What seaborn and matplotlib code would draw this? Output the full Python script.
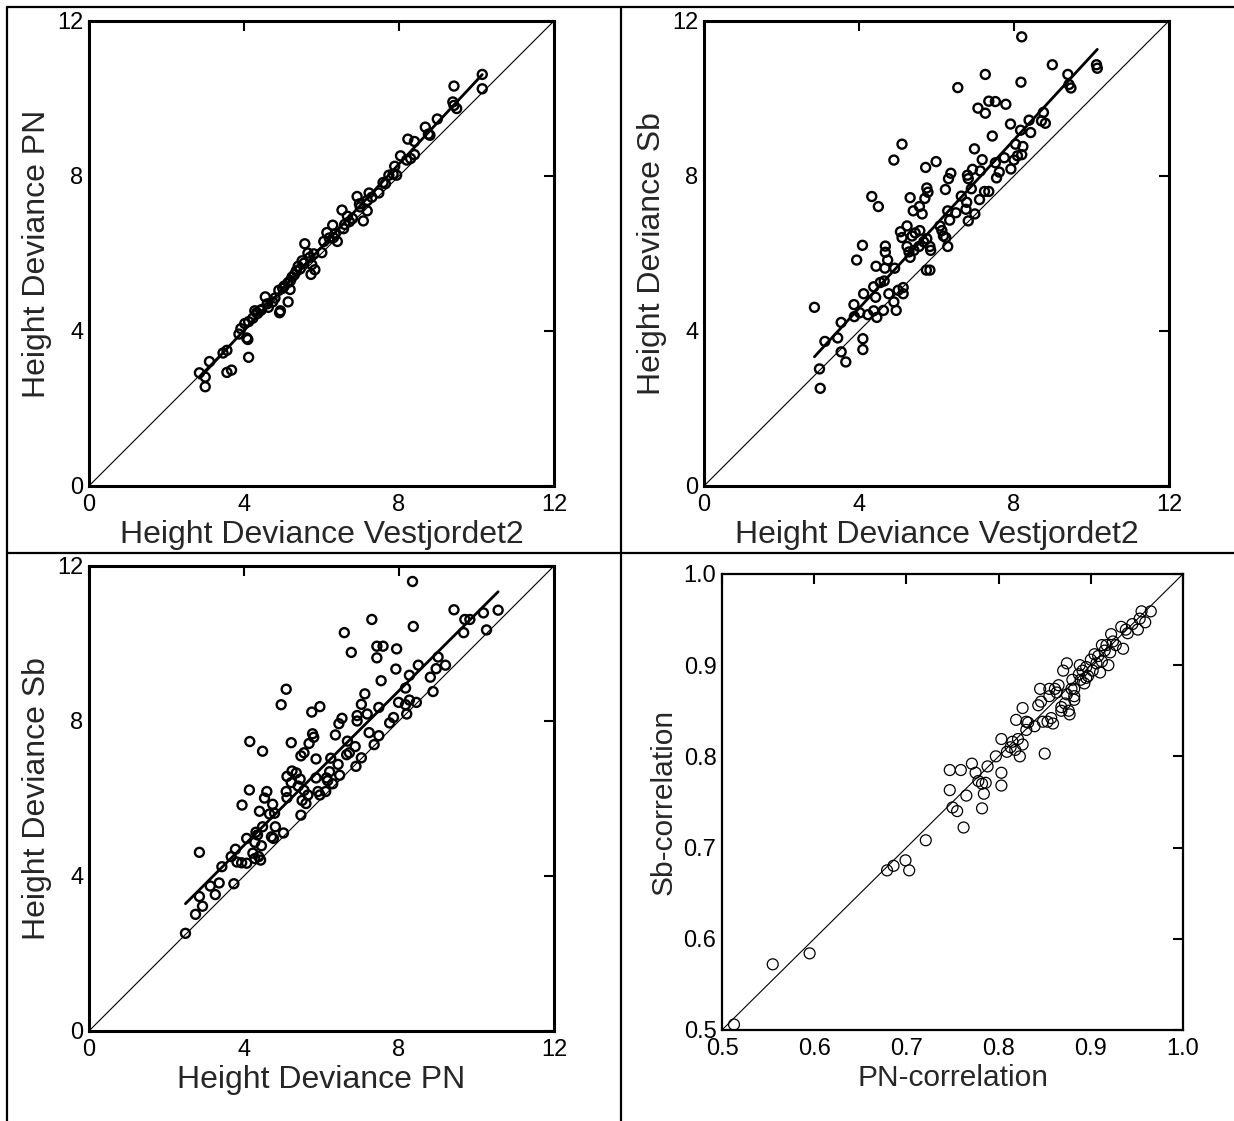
import numpy as np
import pandas as pd
import matplotlib
matplotlib.use("Agg")
import matplotlib.pyplot as plt
from matplotlib.lines import Line2D
import seaborn as sns

# Painel 1: Vestjordet2 x PN
p1_vest = [10.15, 10.15, 9.42, 9.39, 9.42, 9.49, 8.99, 8.68, 8.76, 8.80, 8.23, 8.40, 8.40, 8.04, 8.20,
           8.30, 7.89, 7.94, 7.74, 7.85, 7.59, 7.48, 7.65, 7.23, 7.18, 7.30, 6.92, 6.98, 7.18, 7.08,
           7.00, 6.53, 6.67, 6.72, 6.80, 6.57, 6.60, 6.29, 6.14, 6.31, 6.41, 6.20, 6.35, 6.06, 6.01,
           5.80, 5.57, 5.65, 5.50, 5.40, 5.75, 5.83, 5.73, 5.55, 5.70, 5.24, 5.14, 5.04, 5.19, 5.30,
           5.35, 5.45, 5.20, 4.90, 4.94, 4.92, 5.14, 5.00, 4.55, 4.74, 4.63, 4.43, 4.33, 4.80, 4.60,
           4.45, 4.28, 4.23, 4.35, 4.02, 4.12, 3.92, 3.87, 4.07, 4.10, 4.12, 3.56, 3.46, 3.56, 3.68,
           3.11, 2.85, 3.00, 3.00]
p1_pn = [10.62, 10.25, 10.32, 9.91, 9.82, 9.74, 9.47, 9.26, 9.08, 9.05, 8.95, 8.89, 8.55, 8.52, 8.41,
         8.45, 8.25, 8.02, 8.02, 8.05, 7.83, 7.56, 7.80, 7.56, 7.37, 7.45, 7.47, 7.28, 7.10, 6.84,
         7.20, 7.12, 6.96, 6.82, 6.90, 6.64, 6.75, 6.73, 6.54, 6.41, 6.31, 6.40, 6.50, 6.31, 6.02,
         5.99, 6.25, 6.01, 5.81, 5.67, 5.71, 5.58, 5.46, 5.75, 5.90, 5.39, 5.25, 5.16, 5.07, 5.45,
         5.55, 5.60, 5.30, 5.05, 4.52, 4.47, 4.75, 5.10, 4.88, 4.75, 4.61, 4.53, 4.47, 4.85, 4.70,
         4.55, 4.52, 4.33, 4.45, 4.19, 4.24, 4.06, 3.92, 3.82, 3.78, 3.32, 3.50, 3.43, 2.93, 2.99,
         3.21, 2.92, 2.81, 2.56]

# Painel 2: Vestjordet2 x Sb
p2_vest = [8.20, 8.99, 9.39, 10.13, 10.15, 7.26, 8.18, 6.55, 9.42, 9.47, 7.35, 7.52, 7.79, 7.07, 7.26,
           8.76, 8.81, 8.71, 8.39, 7.91, 8.17, 8.43, 7.44, 8.04, 5.11, 8.23, 6.98, 4.90, 7.18, 7.52,
           8.09, 8.20, 7.75, 8.00, 5.99, 5.72, 7.92, 6.93, 7.13, 6.37, 7.62, 6.80, 6.31, 6.82, 7.55,
           6.23, 5.75, 5.78, 6.90, 7.24, 7.35, 4.33, 5.32, 5.70, 6.64, 7.11, 4.50, 5.56, 6.78, 5.40,
           5.63, 6.29, 6.50, 6.76, 6.99, 6.34, 6.82, 5.07, 5.24, 5.11, 5.37, 5.57, 5.45, 6.09, 6.14,
           6.18, 6.24, 6.29, 4.09, 4.68, 4.68, 4.74, 3.94, 5.24, 5.29, 5.32, 5.42, 5.55, 5.67, 5.75,
           5.83, 5.85, 4.44, 4.67, 4.92, 5.74, 5.83, 4.55, 4.65, 4.38, 4.12, 4.43, 4.77, 5.01, 5.14,
           5.14, 4.90, 4.96, 3.87, 4.02, 3.88, 4.23, 4.38, 4.46, 4.63, 2.85, 3.54, 3.45, 3.12, 4.10,
           4.10, 3.54, 3.66, 2.98, 3.00]
p2_sb = [11.59, 10.87, 10.62, 10.87, 10.78, 10.62, 10.42, 10.28, 10.36, 10.27, 9.93, 9.92, 9.85, 9.75, 9.62,
         9.64, 9.36, 9.42, 9.44, 9.34, 9.18, 9.12, 9.03, 8.82, 8.82, 8.76, 8.70, 8.41, 8.42, 8.34,
         8.52, 8.55, 8.47, 8.41, 8.37, 8.22, 8.18, 8.17, 8.13, 8.07, 8.10, 8.02, 7.93, 7.93, 7.95,
         7.65, 7.69, 7.58, 7.67, 7.60, 7.60, 7.47, 7.44, 7.42, 7.48, 7.39, 7.21, 7.21, 7.32, 7.10,
         7.02, 7.10, 7.05, 7.14, 7.02, 6.86, 6.84, 6.56, 6.71, 6.41, 6.45, 6.59, 6.53, 6.71, 6.59,
         6.45, 6.41, 6.18, 6.21, 6.19, 6.03, 5.83, 5.83, 6.18, 6.04, 5.90, 6.08, 6.18, 6.30, 6.38,
         6.18, 6.08, 5.67, 5.62, 5.62, 5.57, 5.57, 5.25, 5.29, 5.14, 4.96, 4.87, 4.96, 5.05, 5.12,
         4.96, 4.75, 4.53, 4.68, 4.47, 4.37, 4.42, 4.52, 4.35, 4.53, 4.61, 4.22, 3.82, 3.73, 3.80,
         3.52, 3.46, 3.20, 3.02, 2.52]

# Painel 3: PN x Sb
p3_pn = [8.35, 9.42, 10.18, 10.56, 9.70, 9.83, 7.30, 8.37, 6.59, 9.67, 10.26, 7.43, 7.59, 7.94, 6.77,
         7.43, 9.01, 8.50, 9.20, 8.96, 7.92, 8.27, 8.81, 7.54, 8.17, 8.88, 5.09, 7.12, 4.96, 7.03,
         7.99, 8.27, 7.48, 8.17, 8.45, 5.96, 5.75, 7.18, 8.20, 6.53, 6.92, 7.86, 6.92, 6.45, 7.76,
         5.77, 5.80, 6.36, 7.23, 7.48, 7.36, 4.15, 5.22, 5.68, 6.67, 6.87, 4.48, 5.55, 5.47, 6.65,
         6.72, 7.03, 5.86, 6.24, 6.43, 6.89, 5.24, 5.35, 5.11, 5.45, 5.22, 5.40, 5.86, 6.21, 6.13,
         6.16, 6.47, 6.29, 4.14, 4.59, 4.53, 5.09, 5.11, 5.55, 5.50, 5.60, 5.65, 5.91, 5.96, 6.11,
         3.95, 4.74, 4.79, 4.40, 4.66, 5.47, 4.48, 4.81, 4.31, 4.35, 4.71, 4.76, 5.02, 4.07, 4.28,
         4.45, 4.23, 4.28, 4.38, 4.43, 3.78, 3.67, 3.82, 3.94, 4.07, 2.85, 3.43, 3.36, 3.13, 3.74,
         3.26, 2.85, 2.93, 2.75, 2.49]
p3_sb = [11.60, 10.87, 10.79, 10.86, 10.62, 10.62, 10.62, 10.44, 10.28, 10.28, 10.35, 9.93, 9.93, 9.86, 9.77,
         9.63, 9.65, 9.44, 9.44, 9.35, 9.34, 9.18, 9.13, 9.04, 8.85, 8.76, 8.82, 8.70, 8.42, 8.43,
         8.48, 8.54, 8.35, 8.42, 8.48, 8.37, 8.23, 8.18, 8.18, 8.07, 8.14, 8.09, 8.00, 7.93, 7.95,
         7.67, 7.58, 7.64, 7.70, 7.62, 7.39, 7.47, 7.44, 7.42, 7.48, 7.34, 7.22, 7.18, 7.10, 7.13,
         7.18, 7.05, 7.02, 7.04, 6.88, 6.83, 6.71, 6.66, 6.57, 6.50, 6.41, 6.32, 6.53, 6.69, 6.53,
         6.46, 6.60, 6.38, 6.22, 6.18, 6.01, 6.18, 6.02, 6.21, 5.95, 5.87, 6.09, 6.18, 6.09, 6.18,
         5.83, 5.85, 5.62, 5.67, 5.60, 5.57, 5.27, 5.27, 5.13, 5.06, 5.01, 4.97, 5.11, 4.97, 4.87,
         4.78, 4.59, 4.45, 4.50, 4.41, 4.69, 4.50, 4.36, 4.34, 4.33, 4.61, 4.24, 3.82, 3.74, 3.80,
         3.52, 3.47, 3.22, 3.01, 2.52]

# Painel 4: correlações
corr_pn = [0.513, 0.555, 0.595, 0.679, 0.686, 0.699, 0.703, 0.721, 0.747, 0.759, 0.771, 0.747, 0.765, 0.750,
           0.755, 0.762, 0.775, 0.778, 0.782, 0.786, 0.788, 0.784, 0.782, 0.797, 0.803, 0.803, 0.803, 0.809,
           0.813, 0.815, 0.818, 0.821, 0.819, 0.823, 0.826, 0.826, 0.830, 0.830, 0.832, 0.839, 0.850, 0.845,
           0.843, 0.846, 0.848, 0.853, 0.855, 0.855, 0.857, 0.859, 0.861, 0.863, 0.865, 0.868, 0.868, 0.870,
           0.872, 0.874, 0.874, 0.876, 0.877, 0.879, 0.880, 0.882, 0.882, 0.882, 0.887, 0.888, 0.889, 0.891,
           0.893, 0.895, 0.897, 0.900, 0.902, 0.904, 0.906, 0.908, 0.910, 0.912, 0.915, 0.917, 0.919, 0.921,
           0.922, 0.924, 0.927, 0.933, 0.935, 0.938, 0.940, 0.945, 0.951, 0.953, 0.955, 0.959, 0.965, 0.912,
           0.895]
corr_sb = [0.506, 0.572, 0.584, 0.675, 0.680, 0.686, 0.675, 0.708, 0.785, 0.785, 0.792, 0.763, 0.757, 0.744,
           0.740, 0.722, 0.782, 0.773, 0.770, 0.771, 0.789, 0.759, 0.743, 0.800, 0.819, 0.782, 0.768, 0.805,
           0.810, 0.816, 0.807, 0.819, 0.840, 0.800, 0.853, 0.813, 0.829, 0.838, 0.837, 0.833, 0.803, 0.874,
           0.856, 0.860, 0.838, 0.838, 0.874, 0.866, 0.842, 0.836, 0.874, 0.870, 0.878, 0.854, 0.850, 0.894,
           0.858, 0.902, 0.868, 0.850, 0.846, 0.874, 0.884, 0.866, 0.862, 0.874, 0.890, 0.900, 0.884, 0.894,
           0.880, 0.898, 0.888, 0.906, 0.894, 0.912, 0.902, 0.910, 0.892, 0.904, 0.916, 0.922, 0.900, 0.914,
           0.934, 0.926, 0.922, 0.942, 0.918, 0.939, 0.935, 0.945, 0.939, 0.951, 0.959, 0.947, 0.959, 0.922,
           0.886]

dev_ticks = [0, 4, 8, 12]
dev_ticklabels = ['0', '4', '8', '12']
corr_ticks = [0.5, 0.6, 0.7, 0.8, 0.9, 1.0]
corr_ticklabels = ['0.5', '0.6', '0.7', '0.8', '0.9', '1.0']

sns.set_theme(style='white')
plt.rcParams['font.family'] = ['Liberation Sans', 'DejaVu Sans']

fig = plt.figure(figsize=(12.34, 11.21), dpi=100)


def theil_sen(x, y):
    # reta robusta (mediana dos declives entre pares)
    x = np.asarray(x, float)
    y = np.asarray(y, float)
    i, j = np.triu_indices(len(x), 1)
    dx = x[j] - x[i]
    ok = np.abs(dx) > 1e-9
    b = np.median((y[j] - y[i])[ok] / dx[ok])
    a = np.median(y - b * x)
    return a, b


def painel(pos, x, y, xlabel, ylabel, ticks, ticklabels, fit=True, grosso=True):
    ax = fig.add_axes(pos)
    lw = 1.7 if grosso else 0.9
    sz = 42 if grosso else 62
    ax.plot([ticks[0], ticks[-1]], [ticks[0], ticks[-1]], color='black', lw=0.8, zorder=1)
    sns.scatterplot(x=x, y=y, ax=ax, marker='o', s=sz, facecolor='none',
                    edgecolor='black', linewidth=lw, zorder=3)
    if fit:
        a, b = theil_sen(x, y)
        xr = np.array([min(x), max(x)])
        sns.lineplot(x=xr, y=a + b * xr, ax=ax, color='black', lw=2.0, zorder=2)
    ax.set_xlim(ticks[0], ticks[-1])
    ax.set_ylim(ticks[0], ticks[-1])
    ax.set_xticks(ticks)
    ax.set_yticks(ticks)
    ax.set_xticklabels(ticklabels)
    ax.set_yticklabels(ticklabels)
    fs_lab = 23 if grosso else 21.5
    ax.set_xlabel(xlabel, fontsize=fs_lab, labelpad=3)
    ax.set_ylabel(ylabel, fontsize=fs_lab, labelpad=4)
    ax.tick_params(direction='in', top=True, right=True, length=7, width=1.5,
                   labelsize=17, color='black', labelcolor='black')
    ax.tick_params(axis='x', pad=6)
    ax.tick_params(axis='y', pad=4)
    for sp in ax.spines.values():
        sp.set_visible(True)
        sp.set_color('black')
        sp.set_linewidth(2.2 if grosso else 1.6)
    return ax


painel([0.0721, 0.5665, 0.3768, 0.4148], p1_vest, p1_pn,
       'Height Deviance Vestjordet2', 'Height Deviance PN', dev_ticks, dev_ticklabels)
painel([0.5705, 0.5665, 0.3768, 0.4148], p2_vest, p2_sb,
       'Height Deviance Vestjordet2', 'Height Deviance Sb', dev_ticks, dev_ticklabels)
painel([0.0721, 0.0803, 0.3768, 0.4148], p3_pn, p3_sb,
       'Height Deviance PN', 'Height Deviance Sb', dev_ticks, dev_ticklabels)
painel([0.5851, 0.0812, 0.3736, 0.4068], corr_pn, corr_sb,
       'PN-correlation', 'Sb-correlation', corr_ticks, corr_ticklabels, fit=False, grosso=False)

# linhas da tabela
for xs, ys in [([0.0057, 0.0057], [0.9938, 0.0]),
               ([0.5032, 0.5032], [0.9938, 0.0]),
               ([0.0057, 1.0], [0.9938, 0.9938]),
               ([0.0057, 1.0], [0.5067, 0.5067])]:
    fig.add_artist(Line2D(xs, ys, transform=fig.transFigure, color='black', lw=1.6))

fig.savefig('out.png', dpi=100, facecolor='white')
